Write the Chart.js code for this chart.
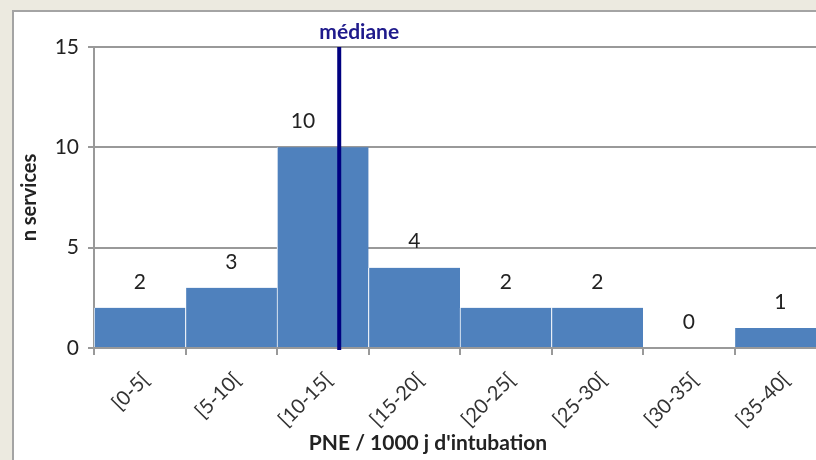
<!DOCTYPE html>
<html><head><meta charset="utf-8">
<script src="https://cdn.jsdelivr.net/npm/chart.js@4"></script>
<style>
html,body{margin:0;padding:0;overflow:hidden;background:#ECEAE0;width:816px;height:460px;}
#frame{position:absolute;left:12px;top:10px;width:900px;height:500px;background:#fff;border-left:2px solid #A4A4A4;border-top:2px solid #A4A4A4;}
#wrap{position:absolute;left:0;top:0;width:830px;height:460px;}
</style></head>
<body>
<div id="frame"></div>
<div id="wrap"><canvas id="c" width="830" height="460"></canvas></div>
<script>
const categories = ['[0-5[','[5-10[','[10-15[','[15-20[','[20-25[','[25-30[','[30-35[','[35-40['];
const counts = [2,3,10,4,2,2,0,1];
const yTicks = [0,5,10,15];
const binWidth = 5;
const medianValue = 13.4;
const medianLabel = 'médiane';
const xTitle = "PNE / 1000 j d'intubation";
const yTitle = 'n services';

const FONT = 'Lato, "Open Sans", sans-serif';

const annot = {
  id: 'annot',
  afterDatasetsDraw(chart) {
    const {ctx, scales: {x, y}} = chart;
    const meta = chart.getDatasetMeta(0);
    const mx = x.getPixelForValue(medianValue / binWidth - 0.5);
    const top = y.getPixelForValue(yTicks[yTicks.length - 1]);
    ctx.save();
    ctx.font = '21px ' + FONT;
    ctx.fillStyle = '#222';
    ctx.textAlign = 'center';
    ctx.textBaseline = 'middle';
    meta.data.forEach((bar, i) => {
      const t = String(counts[i]);
      const w = ctx.measureText(t).width;
      let cx = bar.x;
      // keep the label clear of the median line
      if (Math.abs(cx - mx) < w / 2 + 24) cx = mx - 24 - w / 2;
      ctx.fillText(t, cx, bar.y - 26);
    });
    ctx.strokeStyle = '#000080';
    ctx.lineWidth = 4;
    ctx.beginPath();
    ctx.moveTo(mx, top);
    ctx.lineTo(mx, y.getPixelForValue(0) + 2);
    ctx.stroke();
    ctx.font = 'bold 21px ' + FONT;
    ctx.fillStyle = '#1F1A8C';
    ctx.fillText(medianLabel, mx + 20, top - 15);
    ctx.fillStyle = '#222';
    ctx.fillText(xTitle, 428, 443);
    ctx.restore();
  }
};

new Chart(document.getElementById('c'), {
  type: 'bar',
  data: {
    labels: categories,
    datasets: [{
      data: counts,
      backgroundColor: '#4F81BD',
      borderColor: '#FFFFFF',
      borderWidth: {left: 1, right: 0, top: 0, bottom: 0},
      borderSkipped: false,
      barPercentage: 1,
      categoryPercentage: 1
    }]
  },
  options: {
    responsive: false,
    animation: false,
    devicePixelRatio: 1,
    layout: {padding: {top: 47, right: 4, left: 0, bottom: 0}},
    plugins: {legend: {display: false}, tooltip: {enabled: false}},
    scales: {
      x: {
        afterFit(s) { s.height = 112; },
        grid: {drawOnChartArea: false, drawTicks: true, tickLength: 7, color: '#999', lineWidth: 2},
        border: {display: true, color: '#999', width: 2},
        ticks: {minRotation: 45, maxRotation: 45, padding: 13, labelOffset: 6, color: '#333', font: {family: FONT, size: 20}}
      },
      y: {
        min: 0, max: 15,
        afterFit(s) { s.width = 94; },
        afterBuildTicks(s) { s.ticks = yTicks.map(v => ({value: v})); },
        grid: {color: '#999', lineWidth: 2, tickLength: 6},
        border: {display: true, color: '#999', width: 2},
        ticks: {padding: 9, color: '#222', font: {family: FONT, size: 21}},
        title: {display: true, text: yTitle, color: '#222', font: {family: FONT, size: 20, weight: 'bold'}, padding: {top: 18, bottom: 0}}
      }
    }
  },
  plugins: [annot]
});
</script>
</body></html>
